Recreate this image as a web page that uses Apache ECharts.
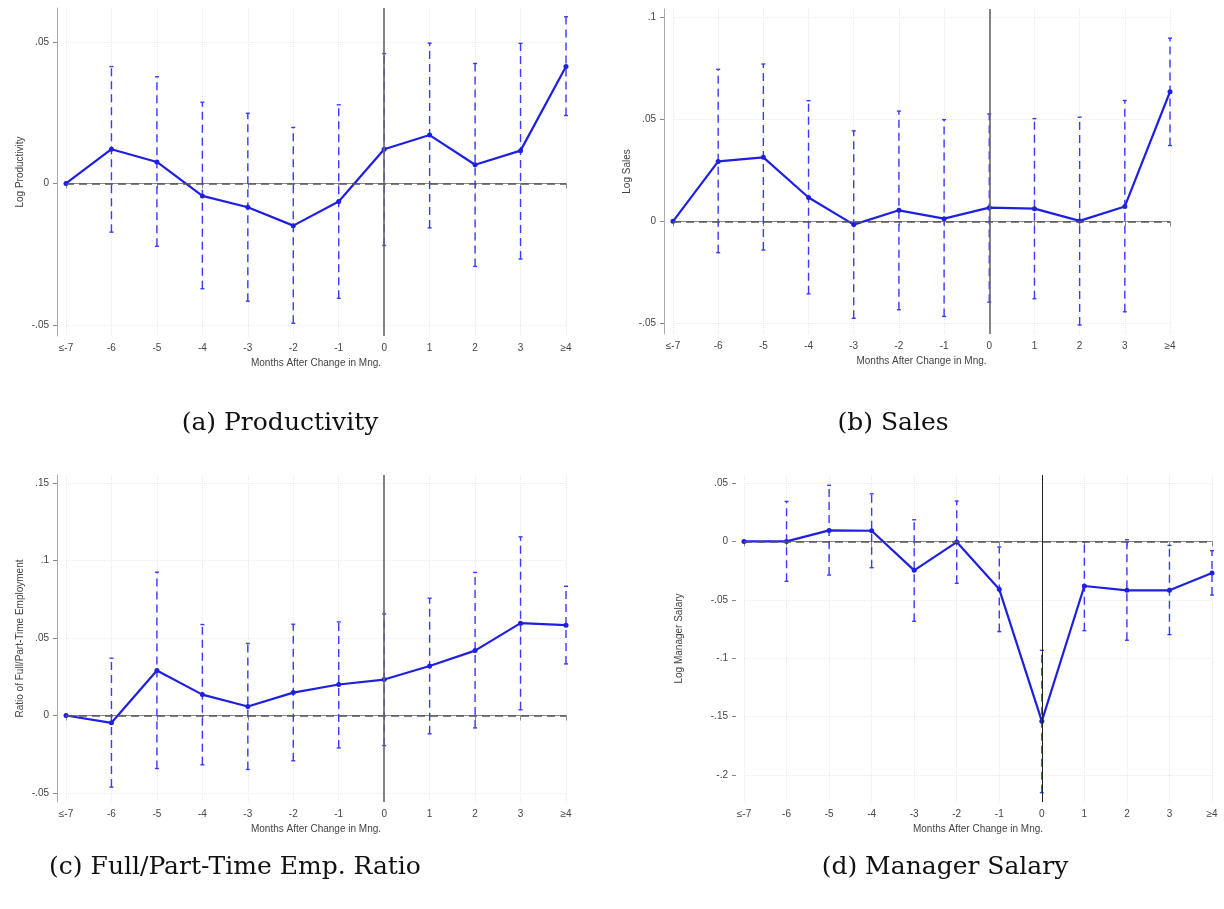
<!DOCTYPE html>
<html>
<head>
<meta charset="utf-8">
<script src="https://cdn.jsdelivr.net/npm/echarts@6/dist/echarts.min.js"></script>
<style>
  html, body { margin: 0; padding: 0; background: #fff; }
  #chart { width: 1224px; height: 909px; }
</style>
</head>
<body>
<div id="chart"></div>
<script>
// categories
const months = ['≤-7', '-6', '-5', '-4', '-3', '-2', '-1', '0', '1', '2', '3', '≥4']

// (a) productivity
const prodEst = [0, 0.0121, 0.0076, -0.0044, -0.0084, -0.0149, -0.0064, 0.0121, 0.0171, 0.0066, 0.0116, 0.0413]
const prodHi = [null, 0.0413, 0.0377, 0.0287, 0.0248, 0.0198, 0.0278, 0.0459, 0.0496, 0.0424, 0.0495, 0.0589]
const prodLo = [null, -0.0172, -0.0222, -0.0372, -0.0416, -0.0494, -0.0406, -0.0219, -0.0157, -0.0293, -0.0267, 0.0240]

// (b) sales
const salesEst = [0, 0.0294, 0.0314, 0.0117, -0.0016, 0.0054, 0.0013, 0.0067, 0.0062, 0.0002, 0.0073, 0.0636]
const salesHi = [null, 0.0746, 0.0772, 0.0592, 0.0444, 0.0541, 0.0499, 0.0527, 0.0504, 0.0511, 0.0593, 0.0899]
const salesLo = [null, -0.0154, -0.0141, -0.0356, -0.0476, -0.0434, -0.0467, -0.0397, -0.0380, -0.0509, -0.0444, 0.0372]

// (c) full/part-time ratio
const ratioEst = [0, -0.0047, 0.029, 0.0135, 0.0058, 0.0148, 0.020, 0.0232, 0.032, 0.0419, 0.0596, 0.0583]
const ratioHi = [null, 0.037, 0.0925, 0.0587, 0.0465, 0.0589, 0.0604, 0.0656, 0.0757, 0.0923, 0.1153, 0.0834]
const ratioLo = [null, -0.0462, -0.0342, -0.0318, -0.0348, -0.0292, -0.0209, -0.0194, -0.0118, -0.008, 0.0037, 0.0333]

// (d) manager salary
const salEst = [0, 0, 0.0094, 0.0091, -0.0248, -0.0006, -0.041, -0.1538, -0.0382, -0.0419, -0.0419, -0.0271]
const salHi = [null, 0.0342, 0.048, 0.0407, 0.0185, 0.0345, -0.0048, -0.0932, -0.0003, 0.0014, -0.0034, -0.008]
const salLo = [null, -0.0342, -0.0288, -0.0225, -0.0684, -0.0359, -0.0772, -0.215, -0.0764, -0.0846, -0.0798, -0.0459]

const panels = [
  { est: prodEst, hi: prodHi, lo: prodLo, name: 'Log Productivity', min: -0.0539, max: 0.062,
    ticks: [-0.05, 0, 0.05], grid: { left: 66, right: 658, top: 8, height: 328 }, off: 9, caption: '(a) Productivity', cx: 280, cy: 423 },
  { est: salesEst, hi: salesHi, lo: salesLo, name: 'Log Sales', min: -0.0553, max: 0.1042,
    ticks: [-0.05, 0, 0.05, 0.1], grid: { left: 673, right: 54, top: 9, height: 325 }, off: 9, caption: '(b) Sales', cx: 893, cy: 423 },
  { est: ratioEst, hi: ratioHi, lo: ratioLo, name: 'Ratio of Full/Part-Time Employment', min: -0.0558, max: 0.1552,
    ticks: [-0.05, 0, 0.05, 0.1, 0.15], grid: { left: 66, right: 658, top: 475, height: 327 }, off: 9, caption: '(c) Full/Part-Time Emp. Ratio', cx: 235, cy: 867 },
  { est: salEst, hi: salHi, lo: salLo, name: 'Log Manager Salary', min: -0.223, max: 0.0568,
    ticks: [-0.2, -0.15, -0.1, -0.05, 0, 0.05], grid: { left: 744, right: 12, top: 475, height: 327 }, off: 8, caption: '(d) Manager Salary', cx: 945, cy: 867 }
]

const fmt = v => {
  if (Math.abs(v) < 1e-9) return '0'
  const s = String(+v.toFixed(3))
  return s.replace('0.', '.')
}

const blue = '#1f1fe0'
const grids = [], xAxes = [], yAxes = [], series = [], texts = []

panels.forEach((p, i) => {
  grids.push(p.grid)
  xAxes.push({
    type: 'category', gridIndex: i, data: months, boundaryGap: false,
    name: 'Months After Change in Mng.', nameLocation: 'middle', nameGap: 22,
    nameTextStyle: { fontSize: 10, color: '#444', fontFamily: 'Liberation Sans' },
    axisLine: { lineStyle: { color: '#888' } },
    axisTick: { length: 5, lineStyle: { color: '#888' } },
    axisLabel: { fontSize: 10, color: '#444', margin: 7, fontFamily: 'Liberation Sans' },
    splitLine: { show: true, lineStyle: { color: '#e8e8e8', type: 'dotted' } }
  })
  yAxes.push({
    type: 'value', gridIndex: i, min: p.min, max: p.max, offset: p.off,
    name: p.name, nameLocation: 'middle', nameGap: i === 3 ? 52 : 32, nameRotate: 90,
    nameTextStyle: { fontSize: 10, color: '#444', fontFamily: 'Liberation Sans' },
    axisLine: { show: true, lineStyle: { color: i === 3 ? '#fff' : '#aaa' } },
    axisTick: { show: true, length: 4, customValues: p.ticks, lineStyle: { color: '#888' } },
    axisLabel: { fontSize: 10, color: '#444', customValues: p.ticks, formatter: fmt, fontFamily: 'Liberation Sans' },
    splitLine: { show: true, lineStyle: { color: '#ececec', type: 'dotted' } }
  })
  const bars = months.map((m, k) => [k, p.lo[k], p.hi[k]]).filter(d => d[1] !== null)
  series.push({
    type: 'custom', xAxisIndex: i, yAxisIndex: i, data: bars, z: 3,
    renderItem: (params, api) => {
      const a = api.coord([api.value(0), api.value(1)])
      const b = api.coord([api.value(0), api.value(2)])
      const st = { stroke: '#3a3aff', lineWidth: 1.4 }
      return {
        type: 'group', children: [
          { type: 'line', shape: { x1: a[0], y1: a[1], x2: b[0], y2: b[1] }, style: { ...st, lineDash: [8, 5] } },
          { type: 'line', shape: { x1: a[0] - 2, y1: a[1], x2: a[0] + 2, y2: a[1] }, style: st },
          { type: 'line', shape: { x1: b[0] - 2, y1: b[1], x2: b[0] + 2, y2: b[1] }, style: st }
        ]
      }
    }
  })
  series.push({
    type: 'line', xAxisIndex: i, yAxisIndex: i, data: p.est, z: 4,
    symbol: 'circle', symbolSize: 5, itemStyle: { color: blue },
    lineStyle: { color: blue, width: 2.2 },
    markLine: {
      silent: true, symbol: 'none', label: { show: false }, animation: false,
      data: [
        { yAxis: 0, lineStyle: { color: '#555', type: [8, 5], width: 1.6 } },
        { xAxis: '0', lineStyle: { color: i === 3 ? '#222' : '#666', type: 'solid', width: i === 3 ? 1 : 1.6 } }
      ]
    }
  })
  texts.push({
    type: 'text', x: p.cx, y: p.cy, style: {
      text: p.caption, fill: '#111', fontSize: 25, fontFamily: 'DejaVu Serif', textAlign: 'center', textVerticalAlign: 'middle'
    }
  })
})

const chart = echarts.init(document.getElementById('chart'))
chart.setOption({
  animation: false,
  grid: grids, xAxis: xAxes, yAxis: yAxes, series: series,
  graphic: texts
})
</script>
</body>
</html>
